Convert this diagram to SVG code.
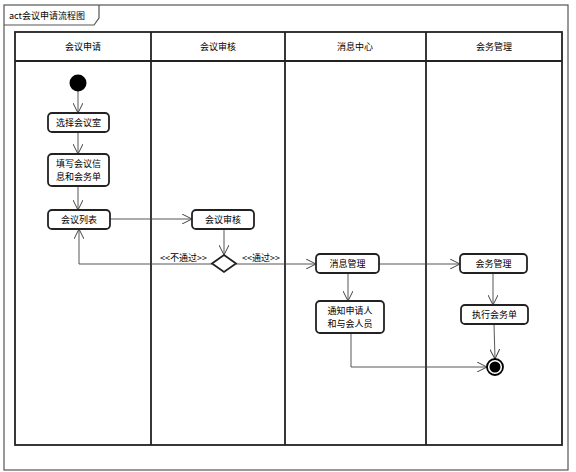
<svg xmlns="http://www.w3.org/2000/svg" width="576" height="472" viewBox="0 0 576 472">
<style>
text{font-family:"Noto Sans CJK SC","Liberation Sans",sans-serif;font-size:9px;fill:#000}
.c{text-anchor:middle}
.frame{fill:none;stroke:#555;stroke-width:1.2}
.lane{fill:none;stroke:#222;stroke-width:1.8}
.node rect{fill:#fff;stroke:#222;stroke-width:1.8}
.node .sh{fill:none;stroke:#bbb;stroke-width:1}
.conn{fill:none;stroke:#444;stroke-width:0.9}
</style>
<defs>
<marker id="arr" viewBox="0 0 10 10" refX="10" refY="5" markerWidth="10" markerHeight="10" markerUnits="userSpaceOnUse" orient="auto">
<path d="M0,0 L10,5 L0,10" fill="none" stroke="#444" stroke-width="1"/>
</marker>
</defs>
<rect x="0" y="0" width="576" height="472" fill="#fff"/>
<g id="frame">
<rect class="frame" x="4" y="5" width="564" height="465"/>
<path class="frame" d="M4,25 H94 L99,18 V5"/>
<text x="9" y="19">act会议申请流程图</text>
</g>
<g id="lanes">
<rect class="lane" x="15" y="32" width="547" height="413"/>
<line class="lane" x1="15" y1="61" x2="562" y2="61"/>
<line class="lane" x1="151" y1="32" x2="151" y2="445"/>
<line class="lane" x1="285" y1="32" x2="285" y2="445"/>
<line class="lane" x1="426" y1="32" x2="426" y2="445"/>
<text class="c" x="83" y="50">会议申请</text>
<text class="c" x="218" y="50">会议审核</text>
<text class="c" x="355" y="50">消息中心</text>
<text class="c" x="494" y="50">会务管理</text>
</g>
<g id="connectors">
<line class="conn" x1="78" y1="91" x2="78" y2="113" marker-end="url(#arr)"/>
<line class="conn" x1="78" y1="132" x2="78" y2="154" marker-end="url(#arr)"/>
<line class="conn" x1="78" y1="186" x2="78" y2="210" marker-end="url(#arr)"/>
<line class="conn" x1="110" y1="219" x2="192" y2="219" marker-end="url(#arr)"/>
<line class="conn" x1="224" y1="229" x2="224" y2="255" marker-end="url(#arr)"/>
<path class="conn" d="M212,264 H79 V229" marker-end="url(#arr)"/>
<line class="conn" x1="236" y1="264" x2="316" y2="264" marker-end="url(#arr)"/>
<line class="conn" x1="379" y1="264" x2="460" y2="264" marker-end="url(#arr)"/>
<line class="conn" x1="348" y1="273" x2="348" y2="301" marker-end="url(#arr)"/>
<line class="conn" x1="493" y1="273" x2="493" y2="305" marker-end="url(#arr)"/>
<line class="conn" x1="494" y1="324" x2="495" y2="359" marker-end="url(#arr)"/>
<path class="conn" d="M351,333 V367 H487" marker-end="url(#arr)"/>
<text x="160" y="261">&lt;&lt;不通过&gt;&gt;</text>
<text x="242" y="261">&lt;&lt;通过&gt;&gt;</text>
</g>
<g id="start"><circle cx="78" cy="83" r="8.5" fill="#000"/></g>
<g id="n1" class="node"><rect x="48" y="113" width="61" height="19" rx="4"/><text class="c" x="78.5" y="126">选择会议室</text></g>
<g id="n2" class="node"><rect x="48" y="154" width="61" height="32" rx="4"/><text class="c" x="78.5" y="167">填写会议信</text><text class="c" x="78.5" y="180">息和会务单</text></g>
<g id="n3" class="node"><rect x="48" y="210" width="62" height="19" rx="4"/><text class="c" x="79" y="223">会议列表</text></g>
<g id="n4" class="node"><rect x="192" y="210" width="62" height="19" rx="4"/><text class="c" x="223" y="223">会议审核</text></g>
<g id="decision"><path d="M224,255 L236,263.5 L224,272 L212,263.5 Z" fill="#fff" stroke="#222" stroke-width="1.8"/></g>
<g id="n5" class="node"><rect x="316" y="254" width="63" height="19" rx="4"/><text class="c" x="347.5" y="267">消息管理</text></g>
<g id="n6" class="node"><rect x="460" y="254" width="67" height="19" rx="4"/><text class="c" x="493.5" y="267">会务管理</text></g>
<g id="n7" class="node"><rect x="316" y="301" width="68" height="32" rx="4"/><text class="c" x="350" y="314">通知申请人</text><text class="c" x="350" y="327">和与会人员</text></g>
<g id="n8" class="node"><rect x="461" y="305" width="67" height="19" rx="4"/><text class="c" x="494.5" y="318">执行会务单</text></g>
<g id="end"><circle cx="495" cy="367" r="8" fill="#fff" stroke="#000" stroke-width="1.8"/><circle cx="495" cy="367" r="5.5" fill="#000"/></g>
</svg>
